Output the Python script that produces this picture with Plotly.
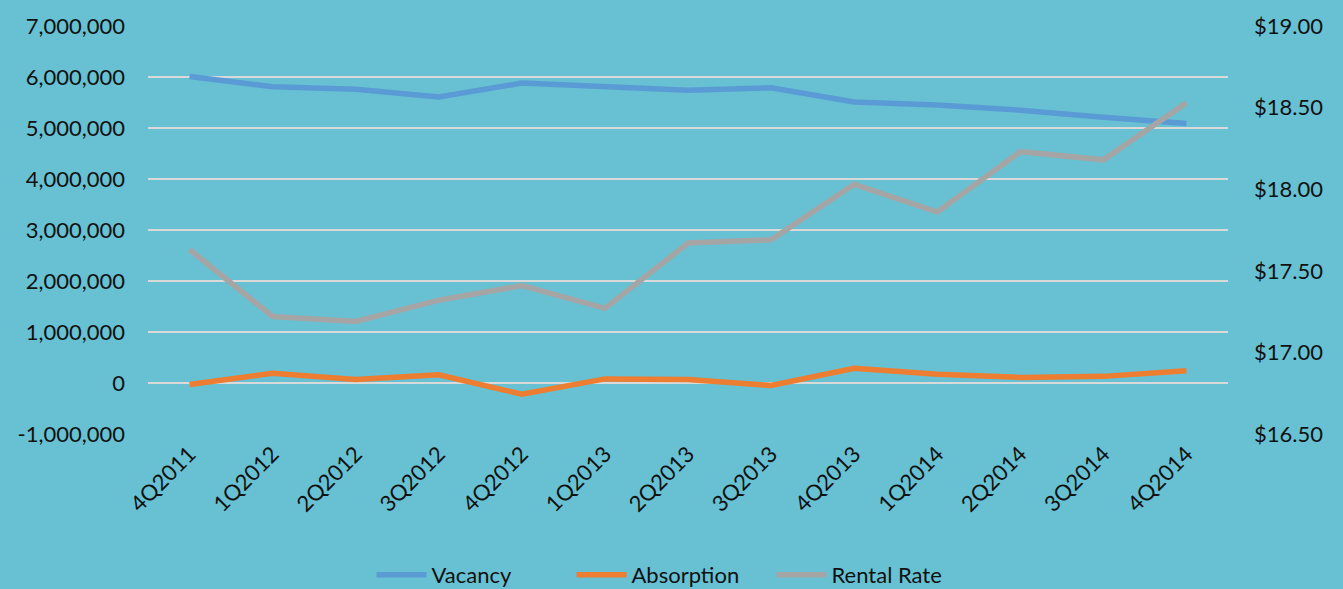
import plotly.graph_objects as go

quarters = ["4Q2011", "1Q2012", "2Q2012", "3Q2012", "4Q2012", "1Q2013", "2Q2013",
            "3Q2013", "4Q2013", "1Q2014", "2Q2014", "3Q2014", "4Q2014"]
vacancy = [6010000, 5810000, 5760000, 5610000, 5880000, 5810000, 5740000,
           5790000, 5510000, 5450000, 5350000, 5210000, 5090000]
absorption = [-30000, 190000, 70000, 160000, -220000, 80000, 70000,
              -50000, 290000, 170000, 110000, 130000, 240000]
rental_rate = [17.63, 17.22, 17.19, 17.32, 17.41, 17.27, 17.67,
               17.69, 18.03, 17.86, 18.23, 18.18, 18.53]

left_tick_vals = [-1000000, 0, 1000000, 2000000, 3000000, 4000000, 5000000, 6000000, 7000000]
left_tick_text = ["-1,000,000", "0", "1,000,000", "2,000,000", "3,000,000",
                  "4,000,000", "5,000,000", "6,000,000", "7,000,000"]
right_tick_vals = [16.5, 17.0, 17.5, 18.0, 18.5, 19.0]
right_tick_text = ["$16.50", "$17.00", "$17.50", "$18.00", "$18.50", "$19.00"]

bg = "#67C1D3"
font_family = "Lato, 'Open Sans', sans-serif"

fig = go.Figure()
fig.add_trace(go.Scatter(x=quarters, y=vacancy, name="Vacancy", mode="lines",
                         line=dict(color="#5B9BD5", width=5.5)))
fig.add_trace(go.Scatter(x=quarters, y=absorption, name="Absorption", mode="lines",
                         line=dict(color="#ED7D31", width=5.5)))
fig.add_trace(go.Scatter(x=quarters, y=rental_rate, name="Rental Rate", mode="lines",
                         line=dict(color="#A5A5A5", width=5.5), yaxis="y2"))

fig.update_layout(
    width=1343, height=589,
    paper_bgcolor=bg, plot_bgcolor=bg,
    margin=dict(l=148, r=115, t=23, b=155),
    font=dict(family=font_family, size=22, color="#111111"),
    xaxis=dict(tickangle=-45, showgrid=False, zeroline=False, showline=False,
               ticks="", ticklabelstandoff=2, range=[-0.5, 12.5]),
    yaxis=dict(range=[-1000000, 7000000], tickvals=left_tick_vals, ticktext=left_tick_text,
               showgrid=True, gridcolor="#D9D9D9", gridwidth=2, zeroline=False,
               showline=False, ticks="", ticklabelstandoff=22),
    yaxis2=dict(range=[16.5, 19.0], tickvals=right_tick_vals, ticktext=right_tick_text,
                overlaying="y", side="right", showgrid=False, zeroline=False,
                showline=False, ticks="", ticklabelstandoff=25),
    legend=dict(orientation="h", x=0.5, xanchor="center", xref="container",
                y=0.024, yanchor="middle", yref="container",
                font=dict(size=22), bgcolor="rgba(0,0,0,0)",
                itemwidth=50, entrywidth=135, tracegroupgap=0),
    showlegend=True,
)

fig.write_html("out.html", config={"displayModeBar": False},
               post_script="document.body.style.margin='0';document.body.style.overflow='hidden';")
